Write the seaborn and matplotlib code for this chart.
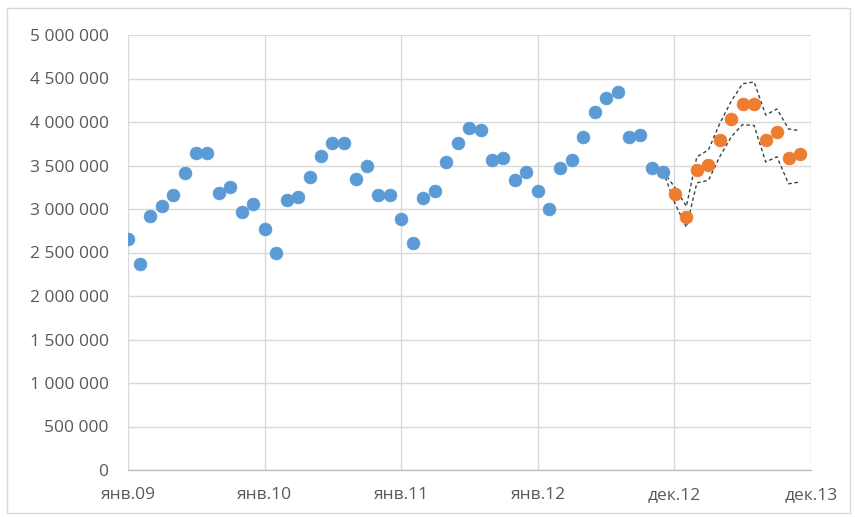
import matplotlib
matplotlib.use("Agg")
import matplotlib.pyplot as plt
from matplotlib.patches import Rectangle
import seaborn as sns
import pandas as pd

# ---- data ----
actual_start = "2009-01-01"
actual_values = [
    2650000, 2370000, 2920000, 3030000, 3160000, 3410000, 3640000, 3640000, 3180000, 3250000, 2960000, 3060000,
    2770000, 2500000, 3100000, 3140000, 3370000, 3610000, 3760000, 3760000, 3350000, 3500000, 3160000, 3160000,
    2880000, 2610000, 3130000, 3210000, 3540000, 3760000, 3930000, 3910000, 3560000, 3590000, 3330000, 3430000,
    3210000, 3000000, 3470000, 3560000, 3830000, 4120000, 4280000, 4350000, 3830000, 3850000, 3470000, 3430000,
]
forecast_start = "2013-01-01"
forecast_values = [3170000, 2910000, 3450000, 3510000, 3790000, 4030000, 4210000, 4210000, 3790000, 3880000, 3590000, 3630000]
bound_start = "2012-12-01"
upper_bound = [3430000, 3250000, 3030000, 3600000, 3680000, 3980000, 4240000, 4440000, 4460000, 4080000, 4150000, 3920000, 3900000]
lower_bound = [3430000, 3070000, 2790000, 3300000, 3330000, 3600000, 3830000, 3970000, 3960000, 3540000, 3600000, 3290000, 3310000]

x_tick_dates = ["2009-01-01", "2010-01-01", "2011-01-01", "2012-01-01", "2012-12-31", "2013-12-31"]
x_tick_labels = ["янв.09", "янв.10", "янв.11", "янв.12", "дек.12", "дек.13"]
y_ticks = [0, 500000, 1000000, 1500000, 2000000, 2500000, 3000000, 3500000, 4000000, 4500000, 5000000]

# ---- tables ----
actual = pd.DataFrame({"date": pd.date_range(actual_start, periods=len(actual_values), freq="MS"),
                       "value": actual_values})
forecast = pd.DataFrame({"date": pd.date_range(forecast_start, periods=len(forecast_values), freq="MS"),
                         "value": forecast_values})
bounds_dates = pd.date_range(bound_start, periods=len(upper_bound), freq="MS")
upper = pd.DataFrame({"date": bounds_dates, "value": upper_bound})
lower = pd.DataFrame({"date": bounds_dates, "value": lower_bound})

sns.set_theme(style="white")
plt.rcParams["font.family"] = ["Open Sans", "DejaVu Sans"]

fig = plt.figure(figsize=(8.55, 5.17), dpi=100)
fig.patch.set_facecolor("white")
ax = fig.add_axes([128 / 855, 47 / 517, (811 - 128) / 855, (470 - 35) / 517])

grid_c = "#D9D9D9"
text_c = "#595959"
blue = "#5B9BD5"
orange = "#ED7D31"

sns.lineplot(data=upper, x="date", y="value", ax=ax, color="#404040", lw=1.0,
             linestyle=(0, (2.5, 2.0)), zorder=3)
sns.lineplot(data=lower, x="date", y="value", ax=ax, color="#404040", lw=1.0,
             linestyle=(0, (2.5, 2.0)), zorder=3)
sns.scatterplot(data=actual, x="date", y="value", ax=ax, color=blue, s=85,
                edgecolor=blue, linewidth=0.5, zorder=4)
sns.scatterplot(data=forecast, x="date", y="value", ax=ax, color=orange, s=85,
                edgecolor=orange, linewidth=0.5, zorder=4)

tick_pos = pd.to_datetime(x_tick_dates)
ax.set_xlim(tick_pos[0], tick_pos[-1])
ax.set_xticks(tick_pos)
ax.set_xticklabels(x_tick_labels)
ax.set_ylim(0, 5000000)
ax.set_yticks(y_ticks)
ax.set_yticklabels([f"{v:,}".replace(",", " ") for v in y_ticks])

ax.grid(True, color=grid_c, lw=1.0)
ax.set_axisbelow(True)
for side in ["top", "right", "left"]:
    ax.spines[side].set_visible(False)
ax.spines["bottom"].set_color("#BFBFBF")
ax.spines["bottom"].set_linewidth(1.0)
ax.tick_params(axis="both", length=0, colors=text_c, labelsize=12.5)
ax.tick_params(axis="y", pad=14)
ax.tick_params(axis="x", pad=12)
ax.set_xlabel("")
ax.set_ylabel("")

fig.patches.append(Rectangle((7 / 855, 4 / 517), 843 / 855, 505 / 517, transform=fig.transFigure,
                             fill=False, edgecolor="#D9D9D9", lw=1.0))

fig.savefig("out.png", dpi=100)
